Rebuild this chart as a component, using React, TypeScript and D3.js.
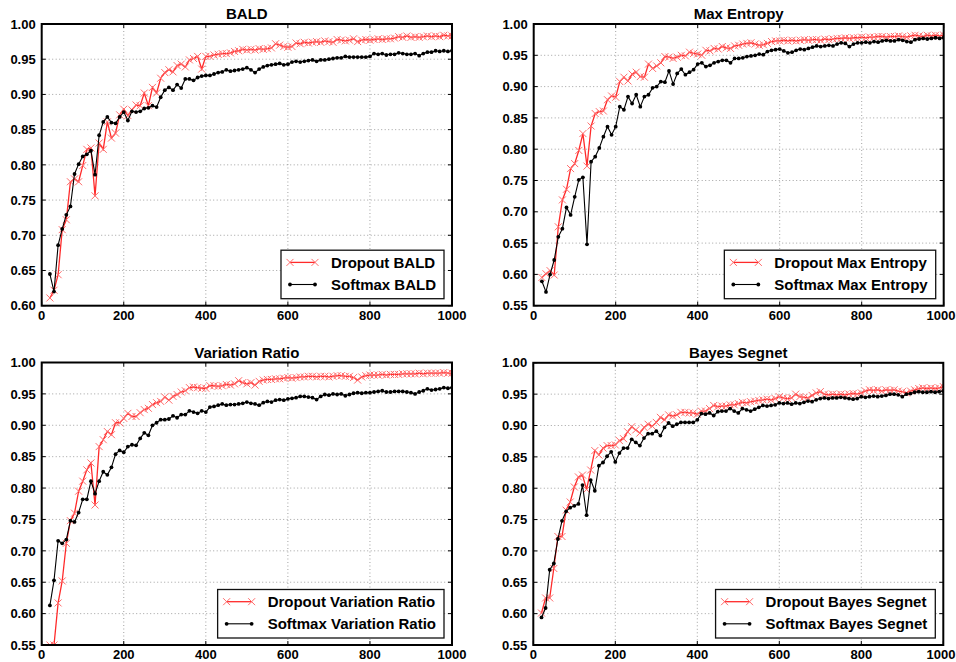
import React from "react";
import * as d3 from "d3";

const iterations = [
  20, 30, 40, 50, 60, 70, 80, 90, 100, 110,
  120, 130, 140, 150, 160, 170, 180, 190, 200, 210,
  220, 230, 240, 250, 260, 270, 280, 290, 300, 310,
  320, 330, 340, 350, 360, 370, 380, 390, 400, 410,
  420, 430, 440, 450, 460, 470, 480, 490, 500, 510,
  520, 530, 540, 550, 560, 570, 580, 590, 600, 610,
  620, 630, 640, 650, 660, 670, 680, 690, 700, 710,
  720, 730, 740, 750, 760, 770, 780, 790, 800, 810,
  820, 830, 840, 850, 860, 870, 880, 890, 900, 910,
  920, 930, 940, 950, 960, 970, 980, 990, 1000,
];

const baldDropout = [
  0.611, 0.622, 0.644, 0.708, 0.722, 0.776, 0.780, 0.776, 0.799, 0.822,
  0.824, 0.756, 0.831, 0.822, 0.861, 0.838, 0.845, 0.871, 0.879, 0.870,
  0.878, 0.885, 0.884, 0.902, 0.884, 0.910, 0.902, 0.923, 0.931, 0.935,
  0.932, 0.941, 0.943, 0.939, 0.949, 0.951, 0.954, 0.936, 0.954, 0.954,
  0.956, 0.957, 0.958, 0.958, 0.959, 0.961, 0.962, 0.964, 0.963, 0.964,
  0.963, 0.965, 0.964, 0.965, 0.966, 0.972, 0.970, 0.968, 0.967, 0.968,
  0.973, 0.972, 0.974, 0.973, 0.974, 0.975, 0.974, 0.976, 0.975, 0.974,
  0.978, 0.977, 0.976, 0.977, 0.979, 0.975, 0.977, 0.978, 0.977, 0.978,
  0.979, 0.978, 0.979, 0.979, 0.980, 0.982, 0.981, 0.983, 0.981, 0.982,
  0.981, 0.982, 0.983, 0.982, 0.983, 0.982, 0.984, 0.983, 0.983,
];
const baldSoftmax = [
  0.645, 0.620, 0.686, 0.709, 0.729, 0.741, 0.787, 0.801, 0.812, 0.815,
  0.820, 0.786, 0.842, 0.861, 0.868, 0.860, 0.859, 0.868, 0.875, 0.863,
  0.876, 0.875, 0.876, 0.880, 0.881, 0.884, 0.882, 0.896, 0.906, 0.910,
  0.906, 0.914, 0.909, 0.922, 0.922, 0.920, 0.924, 0.926, 0.927, 0.927,
  0.929, 0.931, 0.932, 0.935, 0.933, 0.934, 0.935, 0.936, 0.938, 0.935,
  0.931, 0.936, 0.939, 0.941, 0.942, 0.943, 0.944, 0.942, 0.943, 0.946,
  0.947, 0.946, 0.947, 0.948, 0.949, 0.947, 0.949, 0.949, 0.950, 0.951,
  0.952, 0.952, 0.954, 0.953, 0.953, 0.953, 0.953, 0.953, 0.954, 0.958,
  0.957, 0.958, 0.956, 0.957, 0.957, 0.959, 0.958, 0.957, 0.957, 0.958,
  0.955, 0.958, 0.960, 0.960, 0.962, 0.961, 0.962, 0.961, 0.962,
];

const maxEntDropout = [
  0.595, 0.601, 0.606, 0.599, 0.676, 0.719, 0.736, 0.769, 0.777, 0.798,
  0.825, 0.773, 0.837, 0.857, 0.860, 0.861, 0.879, 0.885, 0.883, 0.908,
  0.915, 0.909, 0.920, 0.923, 0.916, 0.915, 0.936, 0.929, 0.933, 0.938,
  0.948, 0.947, 0.945, 0.947, 0.950, 0.949, 0.955, 0.953, 0.952, 0.950,
  0.958, 0.957, 0.961, 0.960, 0.964, 0.962, 0.961, 0.965, 0.966, 0.968,
  0.969, 0.970, 0.968, 0.966, 0.967, 0.969, 0.972, 0.973, 0.973, 0.974,
  0.973, 0.974, 0.973, 0.974, 0.975, 0.974, 0.975, 0.975, 0.974, 0.976,
  0.975, 0.976, 0.977, 0.977, 0.978, 0.977, 0.978, 0.978, 0.979, 0.978,
  0.979, 0.979, 0.980, 0.980, 0.979, 0.980, 0.980, 0.981, 0.980, 0.979,
  0.981, 0.982, 0.981, 0.980, 0.982, 0.981, 0.982, 0.981, 0.982,
];
const maxEntSoftmax = [
  0.589, 0.572, 0.600, 0.623, 0.660, 0.673, 0.707, 0.695, 0.724, 0.751,
  0.755, 0.648, 0.780, 0.788, 0.802, 0.820, 0.836, 0.823, 0.836, 0.868,
  0.863, 0.884, 0.873, 0.887, 0.868, 0.884, 0.887, 0.898, 0.900, 0.908,
  0.907, 0.925, 0.904, 0.921, 0.928, 0.919, 0.923, 0.927, 0.936, 0.938,
  0.932, 0.934, 0.938, 0.940, 0.942, 0.942, 0.938, 0.945, 0.945, 0.946,
  0.948, 0.949, 0.950, 0.952, 0.951, 0.956, 0.958, 0.959, 0.960, 0.957,
  0.954, 0.955, 0.958, 0.960, 0.959, 0.961, 0.963, 0.965, 0.964, 0.965,
  0.966, 0.965, 0.968, 0.970, 0.969, 0.964, 0.968, 0.970, 0.970, 0.971,
  0.970, 0.972, 0.971, 0.973, 0.974, 0.973, 0.973, 0.975, 0.974, 0.972,
  0.971, 0.975, 0.976, 0.977, 0.976, 0.977, 0.978, 0.977, 0.978,
];

const varDropout = [
  0.550, 0.550, 0.617, 0.652, 0.712, 0.748, 0.760, 0.795, 0.811, 0.829,
  0.840, 0.773, 0.866, 0.877, 0.890, 0.885, 0.904, 0.904, 0.911, 0.919,
  0.914, 0.914, 0.920, 0.925, 0.927, 0.933, 0.936, 0.938, 0.945, 0.940,
  0.946, 0.949, 0.953, 0.955, 0.960, 0.961, 0.960, 0.959, 0.959, 0.963,
  0.963, 0.962, 0.963, 0.965, 0.964, 0.966, 0.971, 0.968, 0.966, 0.968,
  0.964, 0.970, 0.972, 0.973, 0.973, 0.974, 0.974, 0.975, 0.976, 0.975,
  0.976, 0.977, 0.977, 0.978, 0.978, 0.977, 0.978, 0.978, 0.977, 0.978,
  0.979, 0.979, 0.978, 0.978, 0.976, 0.972, 0.977, 0.979, 0.980, 0.980,
  0.980, 0.981, 0.980, 0.981, 0.981, 0.981, 0.982, 0.982, 0.982, 0.982,
  0.983, 0.982, 0.983, 0.983, 0.983, 0.983, 0.984, 0.983, 0.983,
];
const varSoftmax = [
  0.613, 0.653, 0.716, 0.712, 0.718, 0.748, 0.746, 0.761, 0.782, 0.782,
  0.811, 0.791, 0.811, 0.826, 0.821, 0.833, 0.854, 0.860, 0.857, 0.866,
  0.869, 0.868, 0.879, 0.888, 0.884, 0.900, 0.904, 0.909, 0.909, 0.910,
  0.915, 0.912, 0.917, 0.917, 0.923, 0.921, 0.919, 0.923, 0.921, 0.929,
  0.930, 0.932, 0.934, 0.932, 0.933, 0.933, 0.934, 0.935, 0.937, 0.935,
  0.934, 0.932, 0.936, 0.938, 0.937, 0.940, 0.941, 0.940, 0.942, 0.943,
  0.944, 0.946, 0.946, 0.945, 0.944, 0.941, 0.946, 0.949, 0.948, 0.950,
  0.949, 0.950, 0.947, 0.949, 0.951, 0.952, 0.951, 0.952, 0.952, 0.953,
  0.954, 0.955, 0.953, 0.953, 0.954, 0.954, 0.954, 0.953, 0.952, 0.950,
  0.953, 0.955, 0.958, 0.956, 0.957, 0.958, 0.960, 0.959, 0.960,
];

const bayesDropout = [
  0.601, 0.625, 0.625, 0.672, 0.723, 0.723, 0.765, 0.778, 0.802, 0.818,
  0.821, 0.798, 0.829, 0.860, 0.853, 0.864, 0.868, 0.868, 0.869, 0.876,
  0.879, 0.890, 0.898, 0.893, 0.888, 0.897, 0.902, 0.899, 0.905, 0.913,
  0.909, 0.917, 0.915, 0.917, 0.921, 0.921, 0.920, 0.920, 0.918, 0.923,
  0.923, 0.927, 0.932, 0.930, 0.931, 0.931, 0.933, 0.933, 0.935, 0.937,
  0.936, 0.938, 0.939, 0.940, 0.941, 0.942, 0.941, 0.943, 0.946, 0.944,
  0.943, 0.944, 0.950, 0.946, 0.945, 0.944, 0.948, 0.952, 0.954, 0.950,
  0.949, 0.950, 0.949, 0.950, 0.949, 0.950, 0.951, 0.950, 0.952, 0.955,
  0.957, 0.956, 0.957, 0.955, 0.957, 0.956, 0.957, 0.955, 0.954, 0.952,
  0.955, 0.957, 0.959, 0.960, 0.959, 0.960, 0.959, 0.960, 0.962,
];
const bayesSoftmax = [
  0.594, 0.609, 0.670, 0.680, 0.719, 0.748, 0.763, 0.769, 0.772, 0.775,
  0.805, 0.757, 0.813, 0.796, 0.836, 0.841, 0.851, 0.858, 0.842, 0.856,
  0.864, 0.864, 0.878, 0.873, 0.868, 0.880, 0.887, 0.887, 0.891, 0.884,
  0.897, 0.904, 0.899, 0.902, 0.905, 0.905, 0.905, 0.905, 0.909, 0.919,
  0.918, 0.920, 0.916, 0.922, 0.923, 0.923, 0.927, 0.923, 0.920, 0.927,
  0.925, 0.923, 0.926, 0.929, 0.932, 0.931, 0.932, 0.933, 0.936, 0.935,
  0.936, 0.934, 0.936, 0.935, 0.937, 0.939, 0.938, 0.941, 0.943, 0.944,
  0.943, 0.944, 0.944, 0.945, 0.944, 0.943, 0.942, 0.943, 0.946, 0.945,
  0.946, 0.947, 0.946, 0.947, 0.948, 0.950, 0.950, 0.949, 0.946, 0.950,
  0.951, 0.953, 0.954, 0.953, 0.953, 0.954, 0.953, 0.954, 0.955,
];

const titles = ["BALD", "Max Entropy", "Variation Ratio", "Bayes Segnet"];
const dropoutLabels = ["Dropout BALD", "Dropout Max Entropy", "Dropout Variation Ratio", "Dropout Bayes Segnet"];
const softmaxLabels = ["Softmax BALD", "Softmax Max Entropy", "Softmax Variation Ratio", "Softmax Bayes Segnet"];
const yMins = [0.6, 0.55, 0.55, 0.55];
const xTicks = [0, 200, 400, 600, 800, 1000];
const dropoutSeries = [baldDropout, maxEntDropout, varDropout, bayesDropout];
const softmaxSeries = [baldSoftmax, maxEntSoftmax, varSoftmax, bayesSoftmax];

const FONT = "'Liberation Sans', Arial, Helvetica, sans-serif";
const RED_LINE = "#ff2a2a";
const RED_MARK = "#ff6a6a";
const PAGE_W = 956;

const boxes = [
  { left: 41.7, right: 452, top: 24, bottom: 305.7 },
  { left: 533.7, right: 943.7, top: 24, bottom: 305.7 },
  { left: 41.7, right: 452, top: 362.5, bottom: 645 },
  { left: 533.3, right: 943.3, top: 362.8, bottom: 645 },
];

function measure(text: string, font: string): number {
  if (typeof document === "undefined") return text.length * 8;
  const c = document.createElement("canvas");
  const ctx = c.getContext("2d");
  if (!ctx) return text.length * 8;
  ctx.font = font;
  return ctx.measureText(text).width;
}

function XMark({ x, y, s = 3.5 }: { x: number; y: number; s?: number }) {
  return (
    <path
      d={`M${x - s},${y - s}L${x + s},${y + s}M${x - s},${y + s}L${x + s},${y - s}`}
      stroke={RED_MARK}
      strokeWidth={1}
      fill="none"
    />
  );
}

function Panel({ i }: { i: number }) {
  const b = boxes[i];
  const yMin = yMins[i];
  const x = d3.scaleLinear().domain([0, 1000]).range([b.left, b.right]);
  const y = d3.scaleLinear().domain([yMin, 1.0]).range([b.bottom, b.top]);
  const nY = Math.round((1 - yMin) / 0.05);
  const yTicks = d3.range(0, nY + 1).map((k) => +(yMin + k * 0.05).toFixed(2));
  const line = d3
    .line<number>()
    .x((_, k) => x(iterations[k]))
    .y((d) => y(d));
  const dro = dropoutSeries[i];
  const sof = softmaxSeries[i];
  const clipId = `clip${i}`;

  const tickFont = `bold 13px ${FONT}`;
  const legFont = `bold 15px ${FONT}`;
  const tw = Math.max(measure(dropoutLabels[i], legFont), measure(softmaxLabels[i], legFont));
  const legW = 9 + 25 + 16 + tw + 8;
  const legH = 48.5;
  const legRight = b.right - 8;
  const legLeft = legRight - legW;
  const legBottom = b.bottom - 7;
  const legTop = legBottom - legH;
  const r1 = legTop + 12.2;
  const r2 = legTop + 34.3;
  const sx0 = legLeft + 9;
  const sx1 = sx0 + 25;
  const tx = sx1 + 16;

  return (
    <g>
      <defs>
        <clipPath id={clipId}>
          <rect x={b.left} y={b.top} width={b.right - b.left} height={b.bottom - b.top} />
        </clipPath>
      </defs>
      {xTicks.slice(1, -1).map((t) => (
        <line key={"gx" + t} x1={x(t)} x2={x(t)} y1={b.top} y2={b.bottom} stroke="#8a8a8a" strokeWidth={0.8} strokeDasharray="1,2.5" />
      ))}
      {yTicks.slice(1, -1).map((t) => (
        <line key={"gy" + t} x1={b.left} x2={b.right} y1={y(t)} y2={y(t)} stroke="#8a8a8a" strokeWidth={0.8} strokeDasharray="1,2.5" />
      ))}
      <g clipPath={`url(#${clipId})`}>
        <path d={line(dro) || ""} fill="none" stroke={RED_LINE} strokeWidth={1.3} />
        {dro.map((v, k) => (
          <XMark key={"m" + k} x={x(iterations[k])} y={y(v)} />
        ))}
        <path d={line(sof) || ""} fill="none" stroke="#000" strokeWidth={1.1} />
        {sof.map((v, k) => (
          <circle key={"c" + k} cx={x(iterations[k])} cy={y(v)} r={1.9} fill="#000" />
        ))}
      </g>
      {xTicks.map((t) => {
        const label = String(t);
        const half = measure(label, tickFont) / 2;
        const lx = Math.min(x(t), PAGE_W - half - 0.5);
        return (
          <g key={"tx" + t}>
            <line x1={x(t)} x2={x(t)} y1={b.bottom} y2={b.bottom - 4} stroke="#000" strokeWidth={1} />
            <line x1={x(t)} x2={x(t)} y1={b.top} y2={b.top + 4} stroke="#000" strokeWidth={1} />
            <text x={lx} y={b.bottom + 14} textAnchor="middle" fontFamily={FONT} fontWeight="bold" fontSize={13}>
              {label}
            </text>
          </g>
        );
      })}
      {yTicks.map((t) => (
        <g key={"ty" + t}>
          <line x1={b.left} x2={b.left + 4} y1={y(t)} y2={y(t)} stroke="#000" strokeWidth={1} />
          <line x1={b.right} x2={b.right - 4} y1={y(t)} y2={y(t)} stroke="#000" strokeWidth={1} />
          <text x={b.left - 6} y={y(t)} dy="0.36em" textAnchor="end" fontFamily={FONT} fontWeight="bold" fontSize={13}>
            {t.toFixed(2)}
          </text>
        </g>
      ))}
      <rect x={b.left} y={b.top} width={b.right - b.left} height={b.bottom - b.top} fill="none" stroke="#000" strokeWidth={2} />
      <text x={(b.left + b.right) / 2} y={b.top - 5} textAnchor="middle" fontFamily={FONT} fontWeight="bold" fontSize={15}>
        {titles[i]}
      </text>
      <rect x={legLeft} y={legTop} width={legW} height={legH} fill="#fff" stroke="#111" strokeWidth={1.3} />
      <line x1={sx0} x2={sx1} y1={r1} y2={r1} stroke={RED_LINE} strokeWidth={1.3} />
      <XMark x={sx0} y={r1} />
      <XMark x={sx1} y={r1} />
      <text x={tx} y={r1} dy="0.36em" fontFamily={FONT} fontWeight="bold" fontSize={15}>
        {dropoutLabels[i]}
      </text>
      <line x1={sx0} x2={sx1} y1={r2} y2={r2} stroke="#000" strokeWidth={1.1} />
      <circle cx={sx0} cy={r2} r={1.9} fill="#000" />
      <circle cx={sx1} cy={r2} r={1.9} fill="#000" />
      <text x={tx} y={r2} dy="0.36em" fontFamily={FONT} fontWeight="bold" fontSize={15}>
        {softmaxLabels[i]}
      </text>
    </g>
  );
}

export default function App() {
  return (
    <svg
      width={956}
      height={662}
      viewBox="0 0 956 662"
      style={{ position: "absolute", left: 0, top: 0, background: "#fff" }}
    >
      <rect x={0} y={0} width={956} height={662} fill="#fff" />
      {[0, 1, 2, 3].map((i) => (
        <Panel key={i} i={i} />
      ))}
    </svg>
  );
}
